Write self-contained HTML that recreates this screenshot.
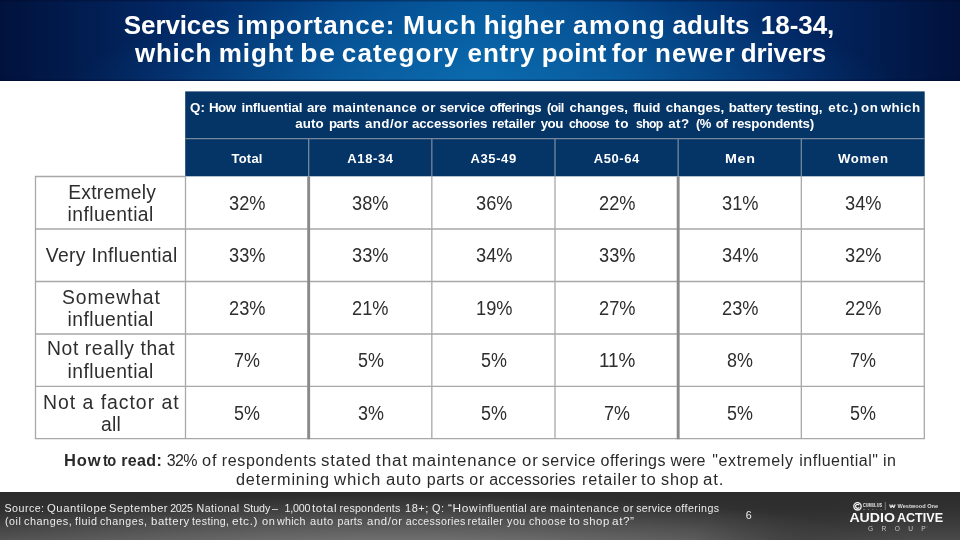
<!DOCTYPE html>
<html lang="en"><head><meta charset="utf-8"><title>Services importance</title>
<style>
html,body{margin:0;padding:0}
body{width:960px;height:540px;overflow:hidden;background:#fff;position:relative;font-family:"Liberation Sans",sans-serif}
.t{position:absolute;white-space:pre;line-height:normal;font-family:"Liberation Sans",sans-serif}
.hdr{position:absolute;left:0;top:0;width:960px;height:80.5px;background:
 linear-gradient(180deg,rgba(0,8,40,.45) 0,rgba(0,8,40,0) 2.5px,rgba(0,8,40,0) 79px,rgba(0,8,40,.5) 80.5px),
 radial-gradient(ellipse 420px 110px at 480px 100px,rgba(20,140,205,.45),rgba(20,140,205,0) 100%),
 linear-gradient(90deg,#01123c 0%,#022865 18%,#04488b 36%,#05579b 50%,#04488b 64%,#022865 82%,#01123c 100%)}
.ft{position:absolute;left:0;top:492px;width:960px;height:48px;background:
 radial-gradient(ellipse 110px 60px at 800px 60px,rgba(30,30,30,.4),rgba(30,30,30,0) 100%),
 radial-gradient(ellipse 520px 62px at 400px 64px,rgba(165,165,165,.55),rgba(165,165,165,0) 100%),
 linear-gradient(180deg,#2c2c2c 0%,#313131 35%,#3d3d3d 70%,#494949 100%)}
</style></head>
<body>
<div class="hdr"></div>
<svg style="position:absolute;left:0;top:0" width="960" height="540" viewBox="0 0 960 540" fill="none"><rect x="185.20" y="91.4" width="739.50" height="84.9" fill="#053566"/><path d="M185.5 138.7H924.5" stroke="#74879e" stroke-width="1.3"/><path d="M308.67 138.7V176.5M431.83 138.7V176.5M555.00 138.7V176.5M678.17 138.7V176.5M801.33 138.7V176.5" stroke="#74879e" stroke-width="1.3"/><path d="M34.8 176.5H186.15M34.8 229H924.90M34.8 281.5H924.90M34.8 334H924.90M34.8 386.4H924.90M34.8 438.6H924.90M35.50 176.5V439.2M185.50 176.5V439.2M431.83 176.5V439.2M555.00 176.5V439.2M801.33 176.5V439.2M924.30 176.5V439.2" stroke="#a8a8a8" stroke-width="1.3"/><path d="M308.67 176.5V439.2M678.17 176.5V439.2" stroke="#8a8a8a" stroke-width="2.9"/></svg>
<div class="ft"></div>
<span class="t" style="left:123.83px;top:10.07px;font-size:26px;font-weight:700;color:#fff;letter-spacing:-0.112px">Services </span>
<span class="t" style="left:237.08px;top:10.07px;font-size:26px;font-weight:700;color:#fff;letter-spacing:0.864px">importance: </span>
<span class="t" style="left:402.58px;top:10.07px;font-size:26px;font-weight:700;color:#fff;letter-spacing:1.300px;transform:scaleX(1.0196);transform-origin:0 0">Much </span>
<span class="t" style="left:483.83px;top:10.07px;font-size:26px;font-weight:700;color:#fff;letter-spacing:0.249px">higher </span>
<span class="t" style="left:572.58px;top:10.07px;font-size:26px;font-weight:700;color:#fff;letter-spacing:1.300px;transform:scaleX(1.0168);transform-origin:0 0">among </span>
<span class="t" style="left:672.58px;top:10.07px;font-size:26px;font-weight:700;color:#fff;letter-spacing:0.074px">adults </span>
<span class="t" style="left:760.83px;top:10.07px;font-size:26px;font-weight:700;color:#fff;letter-spacing:-0.057px">18-34, </span>
<span class="t" style="left:135.08px;top:38.37px;font-size:26px;font-weight:700;color:#fff;letter-spacing:0.632px">which </span>
<span class="t" style="left:218.83px;top:38.37px;font-size:26px;font-weight:700;color:#fff;letter-spacing:0.921px">might </span>
<span class="t" style="left:300.08px;top:38.37px;font-size:26px;font-weight:700;color:#fff;letter-spacing:1.300px;transform:scaleX(1.1045);transform-origin:0 0">be </span>
<span class="t" style="left:341.83px;top:38.37px;font-size:26px;font-weight:700;color:#fff;letter-spacing:1.151px">category </span>
<span class="t" style="left:467.58px;top:38.37px;font-size:26px;font-weight:700;color:#fff;letter-spacing:0.843px">entry </span>
<span class="t" style="left:541.83px;top:38.37px;font-size:26px;font-weight:700;color:#fff;letter-spacing:0.292px">point </span>
<span class="t" style="left:611.83px;top:38.37px;font-size:26px;font-weight:700;color:#fff;letter-spacing:0.264px">for </span>
<span class="t" style="left:655.08px;top:38.37px;font-size:26px;font-weight:700;color:#fff;letter-spacing:1.073px">newer </span>
<span class="t" style="left:740.83px;top:38.37px;font-size:26px;font-weight:700;color:#fff;letter-spacing:-0.214px">drivers </span>
<span class="t" style="left:189.90px;top:99.94px;font-size:13.33px;font-weight:700;color:#fff;letter-spacing:0.187px">Q: </span>
<span class="t" style="left:208.90px;top:99.94px;font-size:13.33px;font-weight:700;color:#fff;letter-spacing:-0.445px">How </span>
<span class="t" style="left:241.40px;top:99.94px;font-size:13.33px;font-weight:700;color:#fff;letter-spacing:-0.195px">influential </span>
<span class="t" style="left:306.90px;top:99.94px;font-size:13.33px;font-weight:700;color:#fff;letter-spacing:-0.133px">are </span>
<span class="t" style="left:332.40px;top:99.94px;font-size:13.33px;font-weight:700;color:#fff;letter-spacing:0.277px">maintenance </span>
<span class="t" style="left:421.40px;top:99.94px;font-size:13.33px;font-weight:700;color:#fff;letter-spacing:0.656px">or </span>
<span class="t" style="left:439.40px;top:99.94px;font-size:13.33px;font-weight:700;color:#fff;letter-spacing:-0.076px">service </span>
<span class="t" style="left:489.40px;top:99.94px;font-size:13.33px;font-weight:700;color:#fff;letter-spacing:-0.596px">offerings </span>
<span class="t" style="left:547.40px;top:99.94px;font-size:13.33px;font-weight:700;color:#fff;letter-spacing:-0.667px;transform:scaleX(0.9583);transform-origin:0 0">(oil </span>
<span class="t" style="left:569.40px;top:99.94px;font-size:13.33px;font-weight:700;color:#fff;letter-spacing:0.103px">changes, </span>
<span class="t" style="left:633.15px;top:99.94px;font-size:13.33px;font-weight:700;color:#fff;letter-spacing:-0.223px">fluid </span>
<span class="t" style="left:665.65px;top:99.94px;font-size:13.33px;font-weight:700;color:#fff;letter-spacing:0.103px">changes, </span>
<span class="t" style="left:728.65px;top:99.94px;font-size:13.33px;font-weight:700;color:#fff;letter-spacing:-0.117px">battery </span>
<span class="t" style="left:776.40px;top:99.94px;font-size:13.33px;font-weight:700;color:#fff;letter-spacing:-0.199px">testing, </span>
<span class="t" style="left:828.15px;top:99.94px;font-size:13.33px;font-weight:700;color:#fff;letter-spacing:0.586px">etc.) </span>
<span class="t" style="left:861.00px;top:99.94px;font-size:13.33px;font-weight:700;color:#fff;letter-spacing:0.603px">on </span>
<span class="t" style="left:880.65px;top:99.94px;font-size:13.33px;font-weight:700;color:#fff;letter-spacing:0.421px">which </span>
<span class="t" style="left:295.15px;top:115.94px;font-size:13.33px;font-weight:700;color:#fff;letter-spacing:0.120px">auto </span>
<span class="t" style="left:328.90px;top:115.94px;font-size:13.33px;font-weight:700;color:#fff;letter-spacing:-0.461px">parts </span>
<span class="t" style="left:364.90px;top:115.94px;font-size:13.33px;font-weight:700;color:#fff;letter-spacing:0.453px">and/or </span>
<span class="t" style="left:411.90px;top:115.94px;font-size:13.33px;font-weight:700;color:#fff;letter-spacing:-0.084px">accessories </span>
<span class="t" style="left:491.90px;top:115.94px;font-size:13.33px;font-weight:700;color:#fff;letter-spacing:-0.138px">retailer </span>
<span class="t" style="left:540.65px;top:115.94px;font-size:13.33px;font-weight:700;color:#fff;letter-spacing:-0.477px">you </span>
<span class="t" style="left:569.40px;top:115.94px;font-size:13.33px;font-weight:700;color:#fff;letter-spacing:-0.667px;transform:scaleX(0.9345);transform-origin:0 0">choose </span>
<span class="t" style="left:615.15px;top:115.94px;font-size:13.33px;font-weight:700;color:#fff;letter-spacing:0.667px;transform:scaleX(1.0181);transform-origin:0 0">to </span>
<span class="t" style="left:635.65px;top:115.94px;font-size:13.33px;font-weight:700;color:#fff;letter-spacing:-0.667px;transform:scaleX(0.9131);transform-origin:0 0">shop </span>
<span class="t" style="left:668.15px;top:115.94px;font-size:13.33px;font-weight:700;color:#fff;letter-spacing:0.500px">at? </span>
<span class="t" style="left:695.65px;top:115.94px;font-size:13.33px;font-weight:700;color:#fff;letter-spacing:-0.667px;transform:scaleX(0.9756);transform-origin:0 0">(% </span>
<span class="t" style="left:715.65px;top:115.94px;font-size:13.33px;font-weight:700;color:#fff;letter-spacing:-0.344px">of </span>
<span class="t" style="left:731.90px;top:115.94px;font-size:13.33px;font-weight:700;color:#fff;letter-spacing:-0.197px">respondents) </span>
<span class="t" style="left:231.50px;top:151.33px;font-size:13px;font-weight:700;color:#fff;letter-spacing:0.220px">Total </span>
<span class="t" style="left:347.31px;top:151.33px;font-size:13px;font-weight:700;color:#fff;letter-spacing:0.607px">A18-34 </span>
<span class="t" style="left:470.48px;top:151.33px;font-size:13px;font-weight:700;color:#fff;letter-spacing:0.607px">A35-49 </span>
<span class="t" style="left:593.65px;top:151.33px;font-size:13px;font-weight:700;color:#fff;letter-spacing:0.607px">A50-64 </span>
<span class="t" style="left:724.66px;top:151.33px;font-size:13px;font-weight:700;color:#fff;letter-spacing:0.650px;transform:scaleX(1.0980);transform-origin:0 0">Men </span>
<span class="t" style="left:837.83px;top:151.33px;font-size:13px;font-weight:700;color:#fff;letter-spacing:0.650px;transform:scaleX(1.0133);transform-origin:0 0">Women </span>
<span class="t" style="left:68.23px;top:181.53px;font-size:19.3px;font-weight:400;color:#2e2e2e;letter-spacing:0.254px">Extremely </span>
<span class="t" style="left:67.53px;top:204.03px;font-size:19.3px;font-weight:400;color:#2e2e2e;letter-spacing:0.433px">influential </span>
<span class="t" style="left:45.83px;top:245.33px;font-size:19.3px;font-weight:400;color:#2e2e2e;letter-spacing:0.324px">Very Influential </span>
<span class="t" style="left:61.63px;top:286.53px;font-size:19.3px;font-weight:400;color:#2e2e2e;letter-spacing:0.965px;transform:scaleX(1.0008);transform-origin:0 0">Somewhat </span>
<span class="t" style="left:67.53px;top:309.03px;font-size:19.3px;font-weight:400;color:#2e2e2e;letter-spacing:0.433px">influential </span>
<span class="t" style="left:47.03px;top:338.13px;font-size:19.3px;font-weight:400;color:#2e2e2e;letter-spacing:0.613px">Not really that </span>
<span class="t" style="left:67.53px;top:361.23px;font-size:19.3px;font-weight:400;color:#2e2e2e;letter-spacing:0.433px">influential </span>
<span class="t" style="left:42.63px;top:391.53px;font-size:19.3px;font-weight:400;color:#2e2e2e;letter-spacing:0.965px;transform:scaleX(1.0076);transform-origin:0 0">Not a factor at </span>
<span class="t" style="left:100.88px;top:414.03px;font-size:19.3px;font-weight:400;color:#2e2e2e;letter-spacing:0.300px">all </span>
<span class="t" style="left:229.21px;top:192.73px;font-size:19.3px;font-weight:400;color:#2e2e2e;transform:scaleX(0.9444);transform-origin:0 0">32% </span>
<span class="t" style="left:352.38px;top:192.73px;font-size:19.3px;font-weight:400;color:#2e2e2e;transform:scaleX(0.9444);transform-origin:0 0">38% </span>
<span class="t" style="left:475.55px;top:192.73px;font-size:19.3px;font-weight:400;color:#2e2e2e;transform:scaleX(0.9444);transform-origin:0 0">36% </span>
<span class="t" style="left:598.71px;top:192.73px;font-size:19.3px;font-weight:400;color:#2e2e2e;transform:scaleX(0.9444);transform-origin:0 0">22% </span>
<span class="t" style="left:721.88px;top:192.73px;font-size:19.3px;font-weight:400;color:#2e2e2e;transform:scaleX(0.9444);transform-origin:0 0">31% </span>
<span class="t" style="left:845.05px;top:192.73px;font-size:19.3px;font-weight:400;color:#2e2e2e;transform:scaleX(0.9444);transform-origin:0 0">34% </span>
<span class="t" style="left:229.21px;top:245.23px;font-size:19.3px;font-weight:400;color:#2e2e2e;transform:scaleX(0.9444);transform-origin:0 0">33% </span>
<span class="t" style="left:352.38px;top:245.23px;font-size:19.3px;font-weight:400;color:#2e2e2e;transform:scaleX(0.9444);transform-origin:0 0">33% </span>
<span class="t" style="left:475.55px;top:245.23px;font-size:19.3px;font-weight:400;color:#2e2e2e;transform:scaleX(0.9444);transform-origin:0 0">34% </span>
<span class="t" style="left:598.71px;top:245.23px;font-size:19.3px;font-weight:400;color:#2e2e2e;transform:scaleX(0.9444);transform-origin:0 0">33% </span>
<span class="t" style="left:721.88px;top:245.23px;font-size:19.3px;font-weight:400;color:#2e2e2e;transform:scaleX(0.9444);transform-origin:0 0">34% </span>
<span class="t" style="left:845.05px;top:245.23px;font-size:19.3px;font-weight:400;color:#2e2e2e;transform:scaleX(0.9444);transform-origin:0 0">32% </span>
<span class="t" style="left:229.21px;top:297.73px;font-size:19.3px;font-weight:400;color:#2e2e2e;transform:scaleX(0.9444);transform-origin:0 0">23% </span>
<span class="t" style="left:352.38px;top:297.73px;font-size:19.3px;font-weight:400;color:#2e2e2e;transform:scaleX(0.9444);transform-origin:0 0">21% </span>
<span class="t" style="left:475.55px;top:297.73px;font-size:19.3px;font-weight:400;color:#2e2e2e;transform:scaleX(0.9444);transform-origin:0 0">19% </span>
<span class="t" style="left:598.71px;top:297.73px;font-size:19.3px;font-weight:400;color:#2e2e2e;transform:scaleX(0.9444);transform-origin:0 0">27% </span>
<span class="t" style="left:721.88px;top:297.73px;font-size:19.3px;font-weight:400;color:#2e2e2e;transform:scaleX(0.9444);transform-origin:0 0">23% </span>
<span class="t" style="left:845.05px;top:297.73px;font-size:19.3px;font-weight:400;color:#2e2e2e;transform:scaleX(0.9444);transform-origin:0 0">22% </span>
<span class="t" style="left:234.46px;top:350.23px;font-size:19.3px;font-weight:400;color:#2e2e2e;transform:scaleX(0.9309);transform-origin:0 0">7% </span>
<span class="t" style="left:357.63px;top:350.23px;font-size:19.3px;font-weight:400;color:#2e2e2e;transform:scaleX(0.9309);transform-origin:0 0">5% </span>
<span class="t" style="left:480.80px;top:350.23px;font-size:19.3px;font-weight:400;color:#2e2e2e;transform:scaleX(0.9309);transform-origin:0 0">5% </span>
<span class="t" style="left:598.71px;top:350.23px;font-size:19.3px;font-weight:400;color:#2e2e2e;transform:scaleX(0.9805);transform-origin:0 0">11% </span>
<span class="t" style="left:727.13px;top:350.23px;font-size:19.3px;font-weight:400;color:#2e2e2e;transform:scaleX(0.9309);transform-origin:0 0">8% </span>
<span class="t" style="left:850.30px;top:350.23px;font-size:19.3px;font-weight:400;color:#2e2e2e;transform:scaleX(0.9309);transform-origin:0 0">7% </span>
<span class="t" style="left:234.46px;top:402.73px;font-size:19.3px;font-weight:400;color:#2e2e2e;transform:scaleX(0.9309);transform-origin:0 0">5% </span>
<span class="t" style="left:357.63px;top:402.73px;font-size:19.3px;font-weight:400;color:#2e2e2e;transform:scaleX(0.9309);transform-origin:0 0">3% </span>
<span class="t" style="left:480.80px;top:402.73px;font-size:19.3px;font-weight:400;color:#2e2e2e;transform:scaleX(0.9309);transform-origin:0 0">5% </span>
<span class="t" style="left:603.96px;top:402.73px;font-size:19.3px;font-weight:400;color:#2e2e2e;transform:scaleX(0.9309);transform-origin:0 0">7% </span>
<span class="t" style="left:727.13px;top:402.73px;font-size:19.3px;font-weight:400;color:#2e2e2e;transform:scaleX(0.9309);transform-origin:0 0">5% </span>
<span class="t" style="left:850.30px;top:402.73px;font-size:19.3px;font-weight:400;color:#2e2e2e;transform:scaleX(0.9309);transform-origin:0 0">5% </span>
<span class="t" style="left:64.28px;top:452.12px;font-size:16px;font-weight:700;color:#2a2a2a;letter-spacing:0.800px;transform:scaleX(1.0316);transform-origin:0 0">How </span>
<span class="t" style="left:102.88px;top:452.12px;font-size:16px;font-weight:700;color:#2a2a2a;letter-spacing:-0.800px;transform:scaleX(0.9155);transform-origin:0 0">to </span>
<span class="t" style="left:121.28px;top:452.12px;font-size:16px;font-weight:700;color:#2a2a2a;letter-spacing:0.331px">read: </span>
<span class="t" style="left:166.78px;top:452.12px;font-size:16px;font-weight:400;color:#2a2a2a;letter-spacing:-0.666px">32% </span>
<span class="t" style="left:202.28px;top:452.12px;font-size:16px;font-weight:400;color:#2a2a2a;letter-spacing:0.800px;transform:scaleX(1.0217);transform-origin:0 0">of </span>
<span class="t" style="left:221.78px;top:452.12px;font-size:16px;font-weight:400;color:#2a2a2a;letter-spacing:0.639px">respondents </span>
<span class="t" style="left:320.53px;top:452.12px;font-size:16px;font-weight:400;color:#2a2a2a;letter-spacing:0.800px;transform:scaleX(1.0495);transform-origin:0 0">stated </span>
<span class="t" style="left:375.53px;top:452.12px;font-size:16px;font-weight:400;color:#2a2a2a;letter-spacing:0.800px;transform:scaleX(1.0726);transform-origin:0 0">that </span>
<span class="t" style="left:411.78px;top:452.12px;font-size:16px;font-weight:400;color:#2a2a2a;letter-spacing:0.800px;transform:scaleX(1.0459);transform-origin:0 0">maintenance </span>
<span class="t" style="left:522.28px;top:452.12px;font-size:16px;font-weight:400;color:#2a2a2a;letter-spacing:0.800px;transform:scaleX(1.0443);transform-origin:0 0">or </span>
<span class="t" style="left:541.78px;top:452.12px;font-size:16px;font-weight:400;color:#2a2a2a;letter-spacing:0.502px">service </span>
<span class="t" style="left:600.53px;top:452.12px;font-size:16px;font-weight:400;color:#2a2a2a;letter-spacing:0.484px">offerings </span>
<span class="t" style="left:670.53px;top:452.12px;font-size:16px;font-weight:400;color:#2a2a2a;letter-spacing:0.088px">were </span>
<span class="t" style="left:712.28px;top:452.12px;font-size:16px;font-weight:400;color:#2a2a2a;letter-spacing:0.630px">"extremely </span>
<span class="t" style="left:799.28px;top:452.12px;font-size:16px;font-weight:400;color:#2a2a2a;letter-spacing:0.493px">influential" </span>
<span class="t" style="left:883.03px;top:452.12px;font-size:16px;font-weight:400;color:#2a2a2a;letter-spacing:0.497px">in </span>
<span class="t" style="left:236.28px;top:470.92px;font-size:16px;font-weight:400;color:#2a2a2a;letter-spacing:0.800px;transform:scaleX(1.0146);transform-origin:0 0">determining </span>
<span class="t" style="left:334.28px;top:470.92px;font-size:16px;font-weight:400;color:#2a2a2a;letter-spacing:0.800px;transform:scaleX(1.0475);transform-origin:0 0">which </span>
<span class="t" style="left:385.53px;top:470.92px;font-size:16px;font-weight:400;color:#2a2a2a;letter-spacing:0.800px;transform:scaleX(1.0420);transform-origin:0 0">auto </span>
<span class="t" style="left:426.78px;top:470.92px;font-size:16px;font-weight:400;color:#2a2a2a;letter-spacing:0.468px">parts </span>
<span class="t" style="left:469.28px;top:470.92px;font-size:16px;font-weight:400;color:#2a2a2a;letter-spacing:0.716px">or </span>
<span class="t" style="left:489.28px;top:470.92px;font-size:16px;font-weight:400;color:#2a2a2a;letter-spacing:0.172px">accessories </span>
<span class="t" style="left:581.78px;top:470.92px;font-size:16px;font-weight:400;color:#2a2a2a;letter-spacing:0.800px;transform:scaleX(1.0081);transform-origin:0 0">retailer </span>
<span class="t" style="left:641.28px;top:470.92px;font-size:16px;font-weight:400;color:#2a2a2a;letter-spacing:0.800px;transform:scaleX(1.0393);transform-origin:0 0">to </span>
<span class="t" style="left:660.53px;top:470.92px;font-size:16px;font-weight:400;color:#2a2a2a;letter-spacing:0.800px;transform:scaleX(1.0093);transform-origin:0 0">shop </span>
<span class="t" style="left:703.03px;top:470.92px;font-size:16px;font-weight:400;color:#2a2a2a;letter-spacing:0.800px;transform:scaleX(1.0543);transform-origin:0 0">at. </span>
<span class="t" style="left:4.52px;top:501.94px;font-size:10.67px;font-weight:400;color:#ececec;letter-spacing:0.469px">Source: </span>
<span class="t" style="left:47.02px;top:501.94px;font-size:10.67px;font-weight:400;color:#ececec;letter-spacing:0.533px;transform:scaleX(1.0568);transform-origin:0 0">Quantilope </span>
<span class="t" style="left:108.77px;top:501.94px;font-size:10.67px;font-weight:400;color:#ececec;letter-spacing:0.533px;transform:scaleX(1.0380);transform-origin:0 0">September </span>
<span class="t" style="left:170.27px;top:501.94px;font-size:10.67px;font-weight:400;color:#ececec;letter-spacing:-0.389px">2025 </span>
<span class="t" style="left:196.52px;top:501.94px;font-size:10.67px;font-weight:400;color:#ececec;letter-spacing:0.492px">National </span>
<span class="t" style="left:243.27px;top:501.94px;font-size:10.67px;font-weight:400;color:#ececec;letter-spacing:-0.050px">Study </span>
<span class="t" style="left:272.02px;top:501.94px;font-size:10.67px;font-weight:400;color:#ececec;letter-spacing:0.000px">– </span>
<span class="t" style="left:284.52px;top:501.94px;font-size:10.67px;font-weight:400;color:#ececec;letter-spacing:-0.218px">1,000 </span>
<span class="t" style="left:312.02px;top:501.94px;font-size:10.67px;font-weight:400;color:#ececec;letter-spacing:0.533px;transform:scaleX(1.1014);transform-origin:0 0">total </span>
<span class="t" style="left:339.52px;top:501.94px;font-size:10.67px;font-weight:400;color:#ececec;letter-spacing:0.214px">respondents </span>
<span class="t" style="left:404.52px;top:501.94px;font-size:10.67px;font-weight:400;color:#ececec;letter-spacing:0.533px;transform:scaleX(1.0288);transform-origin:0 0">18+; </span>
<span class="t" style="left:432.02px;top:501.94px;font-size:10.67px;font-weight:400;color:#ececec;letter-spacing:0.533px;transform:scaleX(1.0226);transform-origin:0 0">Q: </span>
<span class="t" style="left:448.27px;top:501.94px;font-size:10.67px;font-weight:400;color:#ececec;letter-spacing:0.533px;transform:scaleX(1.1161);transform-origin:0 0">“How </span>
<span class="t" style="left:478.77px;top:501.94px;font-size:10.67px;font-weight:400;color:#ececec;letter-spacing:0.277px">influential </span>
<span class="t" style="left:530.02px;top:501.94px;font-size:10.67px;font-weight:400;color:#ececec;letter-spacing:0.533px;transform:scaleX(1.0047);transform-origin:0 0">are </span>
<span class="t" style="left:550.02px;top:501.94px;font-size:10.67px;font-weight:400;color:#ececec;letter-spacing:0.533px;transform:scaleX(1.0404);transform-origin:0 0">maintenance </span>
<span class="t" style="left:622.77px;top:501.94px;font-size:10.67px;font-weight:400;color:#ececec;letter-spacing:0.533px;transform:scaleX(1.0531);transform-origin:0 0">or </span>
<span class="t" style="left:636.27px;top:501.94px;font-size:10.67px;font-weight:400;color:#ececec;letter-spacing:0.256px">service </span>
<span class="t" style="left:675.02px;top:501.94px;font-size:10.67px;font-weight:400;color:#ececec;letter-spacing:0.420px">offerings </span>
<span class="t" style="left:5.02px;top:515.34px;font-size:10.67px;font-weight:400;color:#ececec;letter-spacing:0.527px">(oil </span>
<span class="t" style="left:23.77px;top:515.34px;font-size:10.67px;font-weight:400;color:#ececec;letter-spacing:0.533px;transform:scaleX(1.0174);transform-origin:0 0">changes, </span>
<span class="t" style="left:74.52px;top:515.34px;font-size:10.67px;font-weight:400;color:#ececec;letter-spacing:0.533px;transform:scaleX(1.0163);transform-origin:0 0">fluid </span>
<span class="t" style="left:99.52px;top:515.34px;font-size:10.67px;font-weight:400;color:#ececec;letter-spacing:0.533px;transform:scaleX(1.0014);transform-origin:0 0">changes, </span>
<span class="t" style="left:150.77px;top:515.34px;font-size:10.67px;font-weight:400;color:#ececec;letter-spacing:0.533px;transform:scaleX(1.0705);transform-origin:0 0">battery </span>
<span class="t" style="left:192.02px;top:515.34px;font-size:10.67px;font-weight:400;color:#ececec;letter-spacing:0.384px">testing, </span>
<span class="t" style="left:232.27px;top:515.34px;font-size:10.67px;font-weight:400;color:#ececec;letter-spacing:0.533px;transform:scaleX(1.1173);transform-origin:0 0">etc.) </span>
<span class="t" style="left:262.02px;top:515.34px;font-size:10.67px;font-weight:400;color:#ececec;letter-spacing:0.533px;transform:scaleX(1.0329);transform-origin:0 0">on </span>
<span class="t" style="left:277.02px;top:515.34px;font-size:10.67px;font-weight:400;color:#ececec;letter-spacing:0.263px">which </span>
<span class="t" style="left:310.02px;top:515.34px;font-size:10.67px;font-weight:400;color:#ececec;letter-spacing:0.533px;transform:scaleX(1.0425);transform-origin:0 0">auto </span>
<span class="t" style="left:337.52px;top:515.34px;font-size:10.67px;font-weight:400;color:#ececec;letter-spacing:0.274px">parts </span>
<span class="t" style="left:366.52px;top:515.34px;font-size:10.67px;font-weight:400;color:#ececec;letter-spacing:0.533px;transform:scaleX(1.0658);transform-origin:0 0">and/or </span>
<span class="t" style="left:405.77px;top:515.34px;font-size:10.67px;font-weight:400;color:#ececec;letter-spacing:0.328px">accessories </span>
<span class="t" style="left:467.52px;top:515.34px;font-size:10.67px;font-weight:400;color:#ececec;letter-spacing:0.389px">retailer </span>
<span class="t" style="left:507.02px;top:515.34px;font-size:10.67px;font-weight:400;color:#ececec;letter-spacing:0.533px;transform:scaleX(1.0025);transform-origin:0 0">you </span>
<span class="t" style="left:528.77px;top:515.34px;font-size:10.67px;font-weight:400;color:#ececec;letter-spacing:0.533px;transform:scaleX(1.0002);transform-origin:0 0">choose </span>
<span class="t" style="left:569.02px;top:515.34px;font-size:10.67px;font-weight:400;color:#ececec;letter-spacing:0.533px;transform:scaleX(1.1460);transform-origin:0 0">to </span>
<span class="t" style="left:583.27px;top:515.34px;font-size:10.67px;font-weight:400;color:#ececec;letter-spacing:0.533px;transform:scaleX(1.0644);transform-origin:0 0">shop </span>
<span class="t" style="left:612.02px;top:515.34px;font-size:10.67px;font-weight:400;color:#ececec;letter-spacing:0.533px;transform:scaleX(1.1039);transform-origin:0 0">at?” </span>
<span class="t" style="left:745.77px;top:509.09px;font-size:10.67px;font-weight:400;color:#ececec;letter-spacing:0.000px">6 </span>
<svg class="lg" style="position:absolute;left:840px;top:492px" width="120" height="48" viewBox="840 492 120 48" font-family="Liberation Sans, sans-serif">
<circle cx="857.5" cy="506.3" r="3.7" fill="none" stroke="#f4f4f4" stroke-width="1.3"/>
<path d="M859.2 505.2 A2 2 0 1 0 859.2 507.4" fill="none" stroke="#f4f4f4" stroke-width="1.2"/>
<text x="863.1" y="507.2" font-size="4.6" font-weight="700" fill="#f0f0f0" textLength="18.8" lengthAdjust="spacingAndGlyphs">CUMULUS</text>
<text x="863.3" y="510" font-size="1.9" font-weight="700" fill="#a8a8a8" textLength="18.2" lengthAdjust="spacing">MEDIA</text>
<rect x="884.8" y="501.9" width="0.9" height="8.2" fill="#808080"/>
<path d="M889.6 504.5 l1.4 3.3 l1.35 -3 l1.35 3 l1.4 -3.3" fill="none" stroke="#dadada" stroke-width="1.3" stroke-linejoin="bevel"/>
<text x="897.5" y="508.4" font-size="6.1" font-weight="700" fill="#dedede" textLength="40.6" lengthAdjust="spacingAndGlyphs">Westwood One</text>
<text x="849.4" y="521.9" font-size="11.9" font-weight="700" fill="#fafafa" textLength="45.6" lengthAdjust="spacingAndGlyphs">AUDIO</text>
<text x="896.9" y="521.9" font-size="11.9" font-weight="700" fill="#fafafa" textLength="46.2" lengthAdjust="spacingAndGlyphs">ACTIVE</text>
<text x="868" y="531" font-size="6.6" fill="#c4c4c4" textLength="57.7" lengthAdjust="spacing">GROUP</text>
<text x="926.3" y="528" font-size="2" fill="#a8a8a8">®</text>
</svg>

</body></html>
